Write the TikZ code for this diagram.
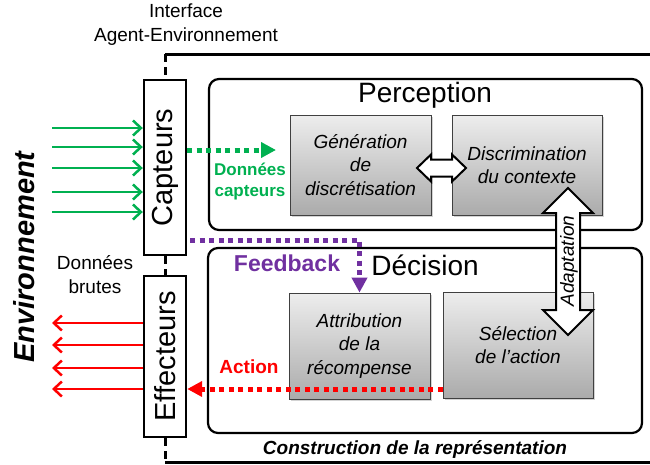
\documentclass[tikz,border=0pt]{standalone}
\usepackage{fontspec}
\setmainfont{Liberation Sans}
\usetikzlibrary{arrows.meta,shadows}
\definecolor{vert}{HTML}{00B050}
\definecolor{rouge}{HTML}{FF0000}
\definecolor{violet}{HTML}{7030A0}
\begin{document}
\begin{tikzpicture}[x=1pt,y=-1pt,
  iface/.style={draw, line width=2.4pt, fill=white, inner sep=0pt},
  zone/.style={draw, line width=2.2pt, rounded corners=10pt, inner sep=0pt},
  proc/.style={draw=black!75, line width=0.8pt, top color=black!7, bottom color=black!33,
    drop shadow={shadow xshift=2pt, shadow yshift=-2pt, opacity=0.35},
    align=center, font=\fontsize{19}{23.5}\selectfont\itshape, inner sep=0pt},
  inarr/.style={vert, line width=2.5pt, -{Straight Barb[length=8pt,width=15pt,line width=2.5pt]}},
  outarr/.style={rouge, line width=2.5pt, -{Straight Barb[length=8pt,width=15pt,line width=2.5pt]}},
  dotarr/.style={line width=5pt, dash pattern=on 5pt off 4.5pt, -{Triangle[length=15pt,width=15pt]}},
  fat/.style={draw, line width=2pt, fill=white, line join=miter},
  frame/.style={line width=3pt},
  framedash/.style={line width=3pt, dash pattern=on 8pt off 5pt},
  lbl/.style={inner sep=0pt, align=center}
]
\useasboundingbox (0,0) rectangle (650,464);

% frame of the agent
\coordinate (ftl) at (165,54);
\coordinate (ftr) at (652,54);
\coordinate (fbl) at (165,462);
\coordinate (fbr) at (652,462);

% zones
\node[zone, minimum width=433pt, minimum height=151pt] (perc) at (425.5,154.5) {};
\node[zone, minimum width=434pt, minimum height=185pt] (dec) at (425,340.5) {};
\node[lbl, font=\fontsize{28}{28}\selectfont, anchor=base] (perct) at (425,102) {Perception};
\node[lbl, font=\fontsize{28}{28}\selectfont, anchor=base] (dect) at (425,275) {Décision};

% interface boxes
\node[iface, minimum width=42pt, minimum height=175pt] (cap) at (165,167.5)
  {\rotatebox{90}{\fontsize{29}{29}\selectfont Capteurs}};
\node[iface, minimum width=42pt, minimum height=161pt] (eff) at (165,356.5)
  {\rotatebox{90}{\fontsize{29}{29}\selectfont Effecteurs}};

\draw[frame] (ftl) -- (ftr);
\draw[frame] (fbl) -- (fbr);
\draw[framedash] (ftl) -- (cap.north);
\draw[framedash] (cap.south) -- (eff.north);
\draw[framedash] (eff.south) -- (fbl);

% process boxes
\node[proc, minimum width=141pt, minimum height=100pt] (gen) at (360.5,165)
  {Génération\\de\\discrétisation};
\node[proc, minimum width=150pt, minimum height=100pt] (disc) at (527,165)
  {Discrimination\\du contexte};
\node[proc, minimum width=141pt, minimum height=106pt] (attr) at (359.5,346)
  {Attribution\\de la\\récompense};
\node[proc, minimum width=150pt, minimum height=106pt] (sel) at (518,345)
  {Sélection\\de l’action};

% horizontal double arrow
\draw[fat] (417,168) -- (431,154.5) -- (431,159.5) -- (452,159.5) -- (452,154.5) -- (466,168)
  -- (452,181.5) -- (452,176.5) -- (431,176.5) -- (431,181.5) -- cycle;

% vertical double arrow (Adaptation)
\draw[fat] (568,188) -- (593,213) -- (580,213) -- (580,310) -- (593,310) -- (568,335)
  -- (543,310) -- (556,310) -- (556,213) -- (543,213) -- cycle;
\node[lbl, rotate=90, font=\fontsize{19}{19}\selectfont\itshape] (adapt) at (569,261) {Adaptation};

% sensor inputs
\foreach \yy in {128,147,168,192,212}
  \draw[inarr] (52,\yy) -- (cap.west |- 0,\yy);
% effector outputs
\foreach \yy in {323,345,368,389}
  \draw[outarr] (eff.west |- 0,\yy) -- (52,\yy);

% dotted flows
\coordinate (gtip) at (276,150);
\draw[dotarr, vert] (cap.east |- 0,150) -- (gtip);
\draw[dotarr, violet, shorten <=3pt] (cap.east |- 0,240) -| (attr.north);
\draw[dotarr, rouge] (sel.west |- 0,389) -- (eff.east |- 0,389);

% labels
\node[lbl, font=\fontsize{17}{21}\selectfont\bfseries, text=vert] (dcap) at (250,182) {Données\\capteurs};
\node[lbl, font=\fontsize{23}{23}\selectfont\bfseries, text=violet] (fb) at (287,263) {Feedback};
\node[lbl, font=\fontsize{19}{19}\selectfont\bfseries, text=rouge] (act) at (249,367) {Action};
\node[lbl, font=\fontsize{19}{24}\selectfont] (ifc) at (186,25) {Interface\\Agent-Environnement};
\node[lbl, font=\fontsize{19}{24}\selectfont] (brut) at (95,275) {Données\\brutes};
\node[lbl, rotate=90, font=\fontsize{29}{29}\selectfont\bfseries\itshape] (env) at (24,257) {Environnement};
\node[lbl, font=\fontsize{19}{19}\selectfont\bfseries\itshape] (constr) at (415,449) {Construction de la représentation};
\end{tikzpicture}
\end{document}
